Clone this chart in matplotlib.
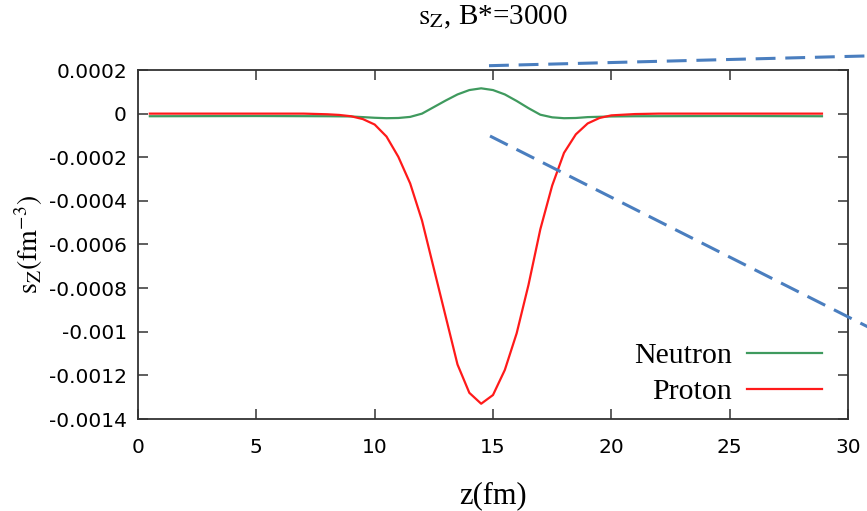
import matplotlib
matplotlib.use("Agg")
import matplotlib.pyplot as plt
from matplotlib.lines import Line2D
import numpy as np

plt.rcParams["mathtext.fontset"] = "stix"

SERIF = "Liberation Serif"
COLORS = {
    "neutron": "#3f9a5e",
    "proton": "#ff1a1a",
    "guide": "#4a7ebf",
    "axis": "#333333",
}

neutron_z = [0.5, 5, 8, 9, 9.5, 10, 10.5, 11, 11.5, 12, 12.5, 13, 13.5, 14, 14.5,
             15, 15.5, 16, 16.5, 17, 17.5, 18, 18.5, 19, 20, 21, 25, 28.9]
neutron_sz = [-1.2e-5, -1.1e-5, -1.2e-5, -1.3e-5, -1.6e-5, -1.9e-5, -2.1e-5, -2.0e-5,
              -1.5e-5, 0.0, 3.0e-5, 6.0e-5, 8.8e-5, 10.8e-5, 11.6e-5,
              10.8e-5, 8.8e-5, 5.8e-5, 2.5e-5, -0.5e-5, -1.7e-5, -2.1e-5, -2.0e-5,
              -1.6e-5, -1.3e-5, -1.2e-5, -1.1e-5, -1.2e-5]

proton_z = [0.5, 7, 8, 8.5, 9, 9.5, 10, 10.5, 11, 11.5, 12, 12.5, 13, 13.5, 14, 14.5,
            15, 15.5, 16, 16.5, 17, 17.5, 18, 18.5, 19, 19.5, 20, 21, 22, 28.9]
proton_sz = [0.0, 0.0, -0.03e-4, -0.06e-4, -0.12e-4, -0.25e-4, -0.5e-4, -1.05e-4,
             -1.98e-4, -3.2e-4, -4.9e-4, -7.1e-4, -9.3e-4, -11.5e-4, -12.8e-4, -13.3e-4,
             -12.9e-4, -11.75e-4, -10.07e-4, -7.85e-4, -5.3e-4, -3.3e-4, -1.8e-4,
             -0.95e-4, -0.45e-4, -0.2e-4, -0.08e-4, -0.02e-4, 0.0, 0.0]

x_ticks = [0, 5, 10, 15, 20, 25, 30]
y_ticks = [0.0002, 0, -0.0002, -0.0004, -0.0006, -0.0008, -0.001, -0.0012, -0.0014]
y_tick_labels = ["0.0002", "0", "-0.0002", "-0.0004", "-0.0006", "-0.0008",
                 "-0.001", "-0.0012", "-0.0014"]

W, H = 867, 511
fig = plt.figure(figsize=(W / 100, H / 100), dpi=100)
ax = fig.add_axes([138 / W, 1 - 419 / H, 710 / W, 349 / H])

ax.plot(neutron_z, neutron_sz, color=COLORS["neutron"], linewidth=1.6, label="Neutron")
ax.plot(proton_z, proton_sz, color=COLORS["proton"], linewidth=1.6, label="Proton")

ax.set_xlim(0, 30)
ax.set_ylim(-0.0014, 0.0002)
ax.set_xticks(x_ticks)
ax.set_xticklabels([str(t) for t in x_ticks])
ax.set_yticks(y_ticks)
ax.set_yticklabels(y_tick_labels)
ax.tick_params(direction="in", length=7, width=1.1, color=COLORS["axis"],
               top=True, right=True, labelsize=14.5)
ax.tick_params(axis="x", pad=14)
ax.tick_params(axis="y", pad=8)
for spine in ax.spines.values():
    spine.set_color(COLORS["axis"])
    spine.set_linewidth(1.3)

ax.set_title(r"$\mathrm{s_Z}$, B*=3000", fontfamily=SERIF, fontsize=21, pad=33)
ax.set_xlabel("z(fm)", fontfamily=SERIF, fontsize=22, labelpad=17)
ax.set_ylabel(r"$\mathrm{s_Z(fm^{-3})}$", fontsize=20, labelpad=2.5)

ax.legend(loc="lower right", bbox_to_anchor=(0.963, 0.04), frameon=False,
          markerfirst=False, handlelength=2.5, handletextpad=0.5, labelspacing=0.3,
          borderpad=0, borderaxespad=0, prop={"family": SERIF, "size": 21.5})

# dashed guide lines running off to the right edge (figure pixels)
for (x0, y0), (x1, y1) in [((489, 65.7), (880, 55.6)), ((490, 136), (880, 333))]:
    fig.add_artist(Line2D([x0 / W, x1 / W], [1 - y0 / H, 1 - y1 / H],
                          transform=fig.transFigure, color=COLORS["guide"],
                          linewidth=2.2, linestyle=(0, (6.5, 3.2)), clip_on=False))

fig.savefig("out.png", dpi=100)
